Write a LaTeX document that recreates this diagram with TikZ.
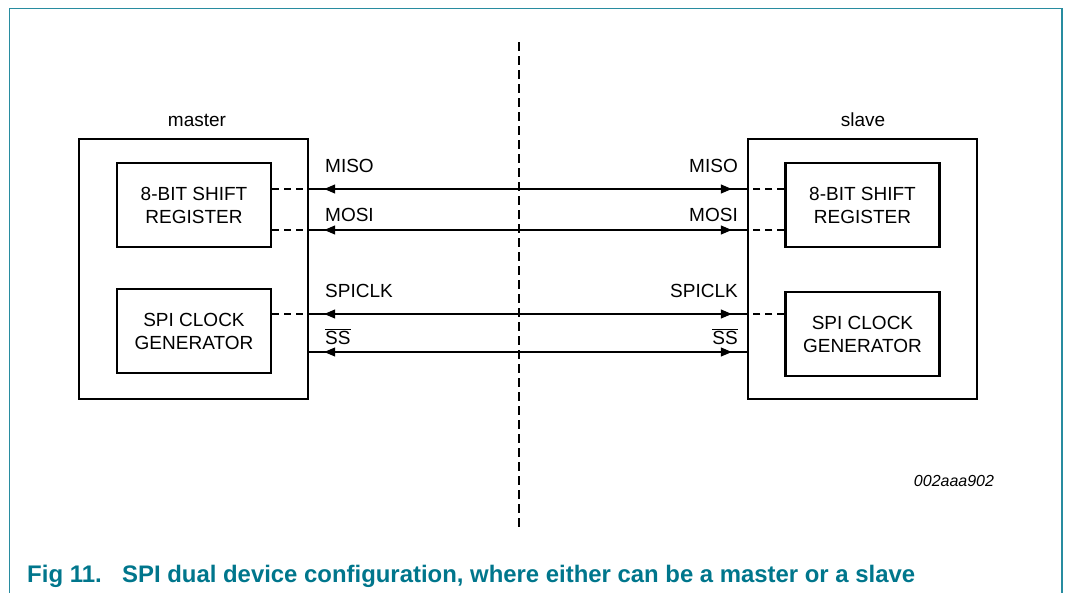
\documentclass[tikz,border=0pt]{standalone}
\usepackage{fontspec}
\setmainfont{Liberation Sans}
\usetikzlibrary{arrows.meta,decorations.markings}
\definecolor{nxpteal}{RGB}{0,118,140}
\definecolor{framteal}{RGB}{40,140,160}
\begin{document}
\begin{tikzpicture}[x=1pt,y=-1pt,
  outerbox/.style={draw, line width=2.4pt, minimum width=229pt, minimum height=260pt, inner sep=0pt},
  innerbox/.style={draw, line width=2.4pt, minimum width=154pt, minimum height=84pt, align=center, font=\fontsize{19}{23}\selectfont, inner sep=0pt},
  lbl/.style={font=\fontsize{19}{23}\selectfont, inner sep=0pt},
  dsig/.style={line width=1.3pt, dash pattern=on 7pt off 5pt},
  sigline/.style={line width=1.3pt, postaction={decorate},
    decoration={markings,
      mark=at position 15pt with {\arrowreversed{Triangle[length=11pt,width=9pt]}},
      mark=at position -15pt with {\arrow{Triangle[length=11pt,width=9pt]}}}}
]
\useasboundingbox (0,0) rectangle (1066,592);
% frame
\draw[framteal, line width=1.5pt] (9.5,600) -- (9.5,8.5) -- (1062,8.5) -- (1062,600);
% divider
\coordinate (dtop) at (519,42);
\coordinate (dbot) at (519,530);
\draw[line width=1.3pt, dash pattern=on 9pt off 5pt] (dtop) -- (dbot);
% boxes
\node[outerbox] (mo) at (193.5,269) {};
\node[outerbox] (so) at (862.5,269) {};
\node[innerbox] (mi) at (194,205) {8-BIT SHIFT\\REGISTER};
\node[innerbox] (mc) at (194,331) {SPI CLOCK\\GENERATOR};
\node[innerbox] (si) at (862.5,205) {8-BIT SHIFT\\REGISTER};
\node[innerbox] (sc) at (862.5,334) {SPI CLOCK\\GENERATOR};
\node[lbl, anchor=base] (mlab) at (197,126) {master};
\node[lbl, anchor=base] (slab) at (863,126) {slave};
% signal levels
\coordinate (yMISO) at (0,189);
\coordinate (yMOSI) at (0,230);
\coordinate (yCLK) at (0,314);
\coordinate (ySS) at (0,352);
% dashed stubs
\draw[dsig] (mi.east |- yMISO) -- (mo.east |- yMISO);
\draw[dsig] (mi.east |- yMOSI) -- (mo.east |- yMOSI);
\draw[dsig] (mc.east |- yCLK) -- (mo.east |- yCLK);
\draw[dsig] (si.west |- yMISO) -- (so.west |- yMISO);
\draw[dsig] (si.west |- yMOSI) -- (so.west |- yMOSI);
\draw[dsig] (sc.west |- yCLK) -- (so.west |- yCLK);
% signal lines
\draw[sigline] (mo.east |- yMISO) -- (so.west |- yMISO);
\draw[sigline] (mo.east |- yMOSI) -- (so.west |- yMOSI);
\draw[sigline] (mo.east |- yCLK) -- (so.west |- yCLK);
\draw[sigline] (mo.east |- ySS) -- (so.west |- ySS);
% labels
\node[lbl, anchor=base west] (l1) at (325,172) {MISO};
\node[lbl, anchor=base west] (l2) at (325,221) {MOSI};
\node[lbl, anchor=base west] (l3) at (325,297) {SPICLK};
\node[lbl, anchor=base west] (l4) at (325,344) {$\overline{\mbox{SS}}$};
\node[lbl, anchor=base east] (r1) at (738,172) {MISO};
\node[lbl, anchor=base east] (r2) at (738,221) {MOSI};
\node[lbl, anchor=base east] (r3) at (738,297) {SPICLK};
\node[lbl, anchor=base east] (r4) at (738,344) {$\overline{\mbox{SS}}$};
\node[anchor=base, inner sep=0pt, font=\fontsize{16}{19}\selectfont\itshape] (code) at (954,486) {002aaa902};
% caption
\node[anchor=base west, inner sep=0pt, text=nxpteal, font=\fontsize{24}{28}\selectfont\bfseries] (cap1) at (27,582) {Fig 11.};
\node[anchor=base west, inner sep=0pt, text=nxpteal, font=\fontsize{23.9}{28}\selectfont\bfseries] (cap2) at (122,582) {SPI dual device configuration, where either can be a master or a slave};
\end{tikzpicture}
\end{document}
